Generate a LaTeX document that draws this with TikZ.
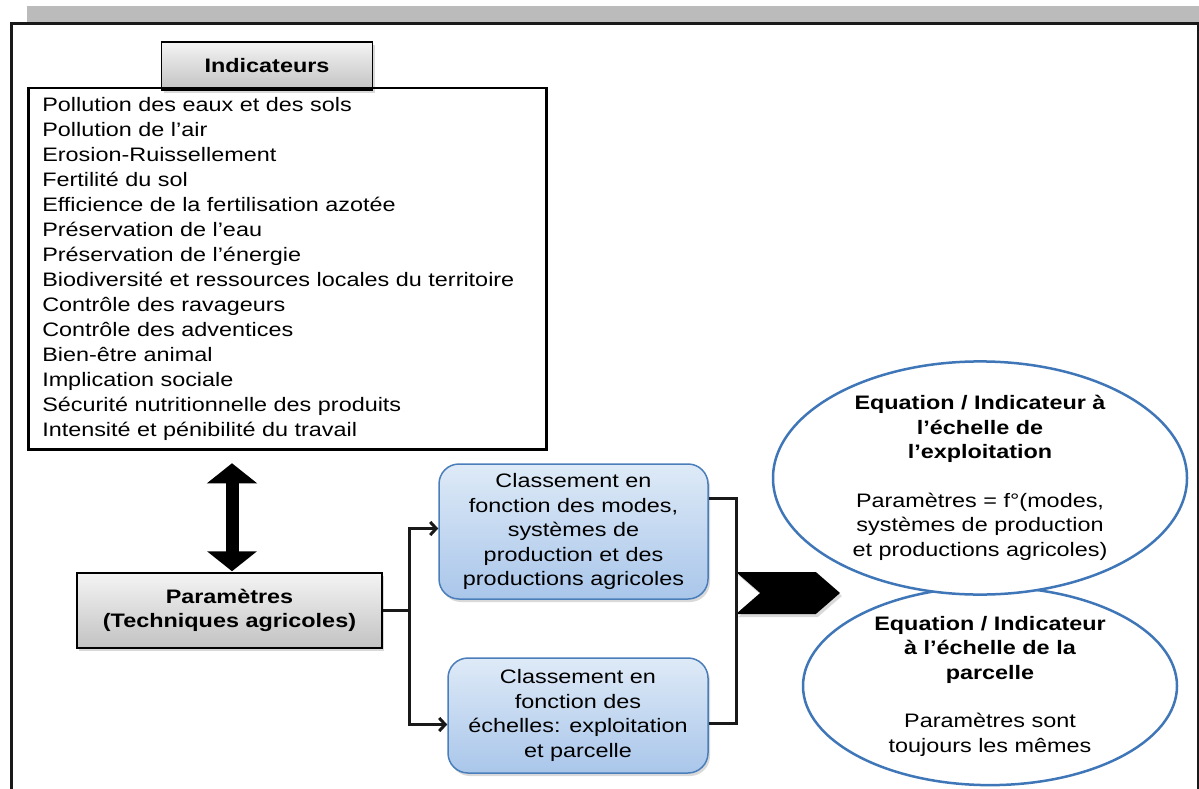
\documentclass[tikz,border=0pt]{standalone}
\usepackage{fontspec}
\setmainfont{Liberation Sans}[FakeStretch=1.2]
\usetikzlibrary{arrows.meta,shapes.geometric,shapes.symbols,shadows,calc}

\definecolor{bandgray}{HTML}{BBBBBB}
\definecolor{ovalblue}{HTML}{3F76B8}
\definecolor{boxblue}{HTML}{4A7EBB}
\definecolor{bluetop}{HTML}{DEEAF7}
\definecolor{bluebot}{HTML}{A9C6EA}
\definecolor{graytop}{HTML}{F4F4F4}
\definecolor{graybot}{HTML}{C2C2C2}

\begin{document}
\begin{tikzpicture}[x=1pt,y=-1pt,
    font=\fontsize{19.5}{24.5}\selectfont,
    softshadow/.style={drop shadow={opacity=0.3,shadow xshift=2pt,shadow yshift=-3pt}},
    graybox/.style={draw,line width=1.5pt,top color=graytop,bottom color=graybot,
        align=center,inner sep=0pt,softshadow},
    bluebox/.style={draw=boxblue,line width=1.5pt,rounded corners=20pt,
        top color=bluetop,bottom color=bluebot,align=center,inner sep=0pt,softshadow},
    oval/.style={ellipse,draw=ovalblue,line width=2.5pt,fill=white,align=center,inner sep=0pt},
    link/.style={line width=3pt,draw=black!90,>={Straight Barb[length=6pt,width=13pt]}},
    bigarrow/.style={line width=13pt,{Triangle[length=20pt,width=49pt]}-{Triangle[length=20pt,width=49pt]}}]

    \useasboundingbox (0,0) rectangle (1199,789);

    % page band and frame
    \fill[bandgray] (27,6) rectangle (1199,22.5);
    \draw[line width=3pt,black!90] (11.5,800) -- (11.5,24) -- (1198,24) -- (1198,800);

    \node[graybox,minimum width=211pt,minimum height=48pt] (indic) at (267,66) {\textbf{Indicateurs}};
    \node[draw,line width=2.5pt,anchor=north west,align=left,text width=490pt,inner xsep=14pt,
        minimum height=361pt,font=\fontsize{19.5}{25}\selectfont] (list) at (27,87)
        {Pollution des eaux et des sols\\
         Pollution de l'air\\
         Erosion-Ruissellement\\
         Fertilité du sol\\
         Efficience de la fertilisation azotée\\
         Préservation de l'eau\\
         Préservation de l'énergie\\
         Biodiversité et ressources locales du territoire\\
         Contrôle des ravageurs\\
         Contrôle des adventices\\
         Bien-être animal\\
         Implication sociale\\
         Sécurité nutritionnelle des produits\\
         Intensité et pénibilité du travail};

    \node[graybox,minimum width=305pt,minimum height=75pt] (param) at (229.5,610.5)
        {\textbf{Paramètres}\\ \textbf{(Techniques agricoles)}};

    \node[bluebox,minimum width=269pt,minimum height=135pt] (cl1) at (573.5,531.5)
        {Classement en\\ fonction des modes,\\ systèmes de\\ production et des\\ productions agricoles};
    \node[bluebox,minimum width=260pt,minimum height=115pt] (cl2) at (578,715.5)
        {Classement en\\ fonction des\\ échelles: exploitation\\ et parcelle};

    \node[oval,minimum width=374pt,minimum height=196pt] (eqplot) at (990,686)
        {\textbf{Equation / Indicateur}\\ \textbf{à l'échelle de la}\\ \textbf{parcelle}\\[24pt]
         Paramètres sont\\ toujours les mêmes};
    \node[oval,minimum width=414pt,minimum height=216pt] (eqfarm) at (980,478)
        {\textbf{Equation / Indicateur à}\\ \textbf{l'échelle de}\\ \textbf{l'exploitation}\\[24pt]
         Paramètres = f°(modes,\\ systèmes de production\\ et productions agricoles)};

    \node[signal,signal from=west,signal to=east,signal pointer angle=82,fill=black,
        minimum width=104pt,minimum height=42pt,inner sep=0pt,softshadow] (flow) at (788,593) {};

    % connectors
    \draw[bigarrow] ($(param.north)+(2.5,-109)$) -- ($(param.north)+(2.5,-1)$);

    \coordinate (fork) at (409,610.5);
    \draw[link] (param.east) -- (fork);
    \draw[link,->] (fork) |- ($(cl1.west)+(0,-3)$);
    \draw[link,->] (fork) |- ($(cl2.west)+(0,9)$);

    \coordinate (join) at (736,593);
    \draw[link] ($(cl1.east)+(0,-33)$) -| (join) |- ($(cl2.east)+(0,8)$);
\end{tikzpicture}
\end{document}
